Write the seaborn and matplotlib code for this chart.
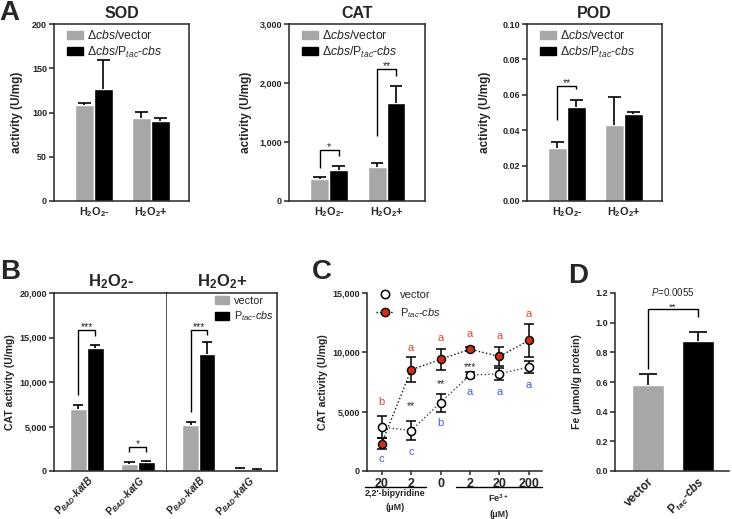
import numpy as np
import pandas as pd
import matplotlib
matplotlib.use("Agg")
import matplotlib.pyplot as plt
import matplotlib.transforms as mtrans
from matplotlib.patches import Patch
from matplotlib.lines import Line2D
import seaborn as sns

# ---------------- data ----------------
conds_A = ["H2O2-", "H2O2+"]
sod_vec = [108, 94]
sod_vec_err = [3, 7]
sod_cbs = [126, 90.5]
sod_cbs_err = [33, 3.5]
cat_vec = [370, 580]
cat_vec_err = [30, 70]
cat_cbs = [525, 1660]
cat_cbs_err = [75, 290]
pod_vec = [0.030, 0.043]
pod_vec_err = [0.0035, 0.016]
pod_cbs = [0.053, 0.049]
pod_cbs_err = [0.004, 0.0013]

strains_B = ["katB", "katG"]
bm_vec = [6980, 790]
bm_vec_err = [380, 185]
bm_cbs = [13800, 1050]
bm_cbs_err = [380, 110]
bp_vec = [5180, 190]
bp_vec_err = [380, 185]
bp_cbs = [13130, 150]
bp_cbs_err = [1420, 110]

c_conc = ["20", "2", "0", "2", "20", "200"]
c_vec = [3720, 3400, 5770, 8080, 8190, 8750]
c_vec_err = [950, 820, 760, 280, 530, 490]
c_cbs = [2310, 8530, 9400, 10270, 9650, 11000]
c_cbs_err = [450, 1070, 870, 150, 840, 1360]
c_letters_cbs = ["b", "a", "a", "a", "a", "a"]
c_letters_vec = ["c", "c", "b", "a", "a", "a"]
c_stars = ["", "**", "**", "***", "", ""]

d_groups = ["vector", "Ptac-cbs"]
d_vals = [0.58, 0.875]
d_err = [0.075, 0.06]

# annotation layout (text / bracket positions)
c_letter_cbs_y = [5800, 10400, 11200, 11550, 11350, 13230]
c_letter_vec_y = [1000, 1630, 4020, 6640, 6640, 7260]
c_star_y = [0, 5500, 7350, 8750, 0, 0]

# ---------------- style ----------------
sns.set_theme(style="white")
plt.rcParams["font.family"] = ["Liberation Sans", "DejaVu Sans"]
plt.rcParams["mathtext.fontset"] = "custom"
plt.rcParams["mathtext.rm"] = "Liberation Sans"
plt.rcParams["mathtext.it"] = "Liberation Sans:italic"
plt.rcParams["mathtext.bf"] = "Liberation Sans:bold"
plt.rcParams["mathtext.bfit"] = "Liberation Sans:italic:bold"

GREY = "#A7A7A7"
BLACK = "#000000"
RED = "#C9301A"
RED_TXT = "#E8432A"
BLUE_TXT = "#3F5CF5"
SPINE = "#262626"
STAR_FS = 7.5

W, H = 732, 519
fig = plt.figure(figsize=(W / 100, H / 100), dpi=100)


def add_ax(x0, x1, y0, y1):
    return fig.add_axes([x0 / W, 1 - y1 / H, (x1 - x0) / W, (y1 - y0) / H])


def style(ax, box=True, ylabsize=6.5):
    for s in ["left", "bottom", "top", "right"]:
        ax.spines[s].set_visible(box or s in ("left", "bottom"))
        ax.spines[s].set_linewidth(1.1)
        ax.spines[s].set_color(SPINE)
    ax.grid(False)
    ax.tick_params(axis="y", left=True, direction="out", length=3.5, width=1.1,
                   labelsize=ylabsize, pad=1.5, color=SPINE)
    ax.tick_params(axis="x", bottom=False, length=0, pad=3)


def set_yt(ax, ticks, fmt):
    ax.set_yticks(ticks, labels=[fmt(t) for t in ticks], fontweight="bold")


def up_err(ax, xs, hs, errs, cap):
    xs = np.asarray(xs)
    tops = np.asarray(hs) + np.asarray(errs)
    ax.vlines(xs, hs, tops, color="black", lw=1.2, zorder=3)
    ax.hlines(tops, xs - cap, xs + cap, color="black", lw=1.2, zorder=3)


def bar_panel(ax, cats, vec, vec_err, cbs, cbs_err, width=0.66, cap=0.1):
    df = pd.DataFrame({"cond": cats * 2,
                       "group": ["vector"] * len(cats) + ["cbs"] * len(cats),
                       "value": vec + cbs})
    sns.barplot(data=df, x="cond", y="value", hue="group", hue_order=["vector", "cbs"],
                palette=[GREY, BLACK], width=width, errorbar=None, saturation=1,
                legend=False, ax=ax)
    errs = vec_err + cbs_err
    xs = [p.get_x() + p.get_width() / 2 for p in ax.patches]
    hs = [p.get_height() for p in ax.patches]
    up_err(ax, xs, hs, errs, cap)
    ax.set_xlabel("")
    ax.set_ylabel("")
    return xs


def bracket(ax, x1, x2, y, y1, y2, txt, fs=STAR_FS):
    ax.plot([x1, x1, x2, x2], [y1, y, y, y2], color="black", lw=1.0, clip_on=False,
            solid_capstyle="butt")
    ax.text((x1 + x2) / 2, y, txt, ha="center", va="baseline", fontsize=fs)


h2o2_labels = [r"H$_\mathbf{2}$O$_\mathbf{2}$-", r"H$_\mathbf{2}$O$_\mathbf{2}$+"]
leg_A = [Patch(color=GREY, label=r"Δ$\mathit{cbs}$/vector"),
         Patch(color=BLACK, label=r"Δ$\mathit{cbs}$/P$_{\mathit{tac}}$-$\mathit{cbs}$")]

# ---------------- Panel A ----------------
specs = [
    ("SOD", (54, 189), sod_vec, sod_vec_err, sod_cbs, sod_cbs_err, (0, 200),
     [0, 50, 100, 150, 200], lambda t: f"{t:d}", -0.23),
    ("CAT", (289, 425), cat_vec, cat_vec_err, cat_cbs, cat_cbs_err, (0, 3000),
     [0, 1000, 2000, 3000], lambda t: f"{t:,}", -0.27),
    ("POD", (527, 662), pod_vec, pod_vec_err, pod_cbs, pod_cbs_err, (0, 0.10),
     [0, 0.02, 0.04, 0.06, 0.08, 0.10], lambda t: f"{t:.2f}", -0.27),
]
axA = {}
for name, (x0, x1), v, ve, c, ce, ylim, yt, fmt, labx in specs:
    ax = add_ax(x0, x1, 24, 201)
    xs = bar_panel(ax, conds_A, v, ve, c, ce, cap=0.11)
    style(ax, box=True)
    ax.set_ylim(*ylim)
    ax.set_xlim(-0.70, 1.67)
    set_yt(ax, yt, fmt)
    ax.set_xticks([0, 1], labels=h2o2_labels, fontsize=7.8, fontweight="bold")
    ax.set_ylabel("activity (U/mg)", fontsize=8.5, fontweight="bold")
    ax.yaxis.set_label_coords(labx, 0.5)
    ax.set_title(name, fontsize=11.5, fontweight="bold", pad=4)
    ax.legend(handles=leg_A, loc="upper left", bbox_to_anchor=(0.08, 0.985), frameon=False,
              fontsize=8.8, handlelength=1.25, handleheight=0.65, handletextpad=0.4,
              labelspacing=0.2, borderpad=0.2, borderaxespad=0)
    axA[name] = (ax, xs)

ax, xs = axA["CAT"]
bracket(ax, xs[0], xs[2], 868, 554, 771, "*")
bracket(ax, xs[1], xs[3], 2229, 1100, 2120, "**")
ax, xs = axA["POD"]
bracket(ax, xs[0], xs[2], 0.065, 0.046, 0.063, "**")

# ---------------- Panel B ----------------
bat_labels = [r"$\mathbf{P}_{\mathbfit{BAD}}$-$\mathbfit{katB}$",
              r"$\mathbf{P}_{\mathbfit{BAD}}$-$\mathbfit{katG}$"]
axB1 = add_ax(54, 167, 293, 471)
axB2 = add_ax(167, 277, 293, 471)
xs1 = bar_panel(axB1, strains_B, bm_vec, bm_vec_err, bm_cbs, bm_cbs_err, cap=0.1)
xs2 = bar_panel(axB2, strains_B, bp_vec, bp_vec_err, bp_cbs, bp_cbs_err, cap=0.1)
for ax, t in [(axB1, r"H$_\mathbf{2}$O$_\mathbf{2}$-"), (axB2, r"H$_\mathbf{2}$O$_\mathbf{2}$+")]:
    style(ax, box=True)
    ax.set_ylim(0, 20000)
    ax.set_xlim(-0.64, 1.57)
    ax.set_xticks([0, 1], labels=bat_labels, fontsize=7.2, fontweight="bold",
                  rotation=45, ha="right", rotation_mode="anchor")
    ax.tick_params(axis="x", pad=2)
    ax.set_title(t, fontsize=12, fontweight="bold", pad=5)
set_yt(axB1, [0, 5000, 10000, 15000, 20000], lambda t: f"{t:,}")
axB2.set_yticks([0, 5000, 10000, 15000, 20000], labels=[])
axB2.tick_params(axis="y", left=False)
axB2.spines["left"].set_visible(False)
axB1.set_ylabel("CAT activity (U/mg)", fontsize=7.6, fontweight="bold")
axB1.yaxis.set_label_coords(-0.345, 0.5)
bracket(axB1, xs1[0], xs1[2], 15870, 8550, 15120, "***")
bracket(axB1, xs1[1], xs1[3], 2740, 2180, 2180, "*")
bracket(axB2, xs2[0], xs2[2], 15870, 6680, 15310, "***")
leg_B = [Patch(color=GREY, label="vector"),
         Patch(color=BLACK, label=r"P$_{\mathit{tac}}$-$\mathit{cbs}$")]
axB2.legend(handles=leg_B, loc="upper right", bbox_to_anchor=(1.0, 1.0), frameon=False,
            fontsize=7.8, handlelength=1.3, handleheight=0.8, handletextpad=0.45,
            labelspacing=0.35, borderpad=0.25, borderaxespad=0)

# ---------------- Panel C ----------------
axC = add_ax(367, 542, 293, 471)
idx = np.arange(len(c_conc))
sns.lineplot(x=idx, y=c_vec, ax=axC, color="#444444", linestyle=":", lw=1.0, zorder=1)
sns.lineplot(x=idx, y=c_cbs, ax=axC, color="#111111", linestyle=":", lw=1.0, zorder=1)
axC.errorbar(idx, c_vec, yerr=c_vec_err, fmt="none", ecolor="black", elinewidth=1.1,
             capsize=3.5, capthick=1.1, zorder=2)
sns.scatterplot(x=idx, y=c_vec, ax=axC, marker="o", s=34, facecolor="white",
                edgecolor="black", linewidth=1.1, zorder=3)
axC.errorbar(idx, c_cbs, yerr=c_cbs_err, fmt="none", ecolor="black", elinewidth=1.1,
             capsize=3.5, capthick=1.1, zorder=4)
sns.scatterplot(x=idx, y=c_cbs, ax=axC, marker="o", s=34, color=RED,
                edgecolor="black", linewidth=1.0, zorder=5)
style(axC, box=False)
axC.set_ylim(0, 15000)
axC.set_xlim(-0.5, 5.45)
set_yt(axC, [0, 5000, 10000, 15000], lambda t: f"{t:,}")
axC.set_xticks(idx, labels=c_conc, fontsize=9, fontweight="bold")
axC.tick_params(axis="x", bottom=True, length=3, width=1.1, color=SPINE, pad=2)
axC.set_ylabel("CAT activity (U/mg)", fontsize=7.6, fontweight="bold")
axC.yaxis.set_label_coords(-0.223, 0.5)
for i in idx:
    axC.text(i, c_letter_cbs_y[i], c_letters_cbs[i], color=RED_TXT, ha="center",
             va="center", fontsize=8)
    axC.text(i, c_letter_vec_y[i], c_letters_vec[i], color=BLUE_TXT, ha="center",
             va="center", fontsize=8)
    if c_stars[i]:
        axC.text(i, c_star_y[i], c_stars[i], ha="center", va="center", fontsize=STAR_FS)
tr = mtrans.blended_transform_factory(axC.transData, axC.transAxes)
axC.plot([-0.58, 1.5], [-0.09, -0.09], color="black", lw=1.0, transform=tr, clip_on=False)
axC.plot([2.52, 5.44], [-0.09, -0.09], color="black", lw=1.0, transform=tr, clip_on=False)
axC.text(0.46, -0.125, "2,2'-bipyridine", transform=tr, ha="center", va="center",
         fontsize=6.5, fontweight="bold")
axC.text(0.46, -0.205, "(μM)", transform=tr, ha="center", va="center",
         fontsize=6.5, fontweight="bold")
axC.text(3.98, -0.15, r"Fe$^{\mathbf{3+}}$", transform=tr, ha="center", va="center",
         fontsize=6.5, fontweight="bold")
axC.text(3.98, -0.245, "(μM)", transform=tr, ha="center", va="center",
         fontsize=6.5, fontweight="bold")
leg_C = [Line2D([], [], marker="o", linestyle="none", mfc="white", mec="black", ms=6,
                mew=1.1, label="vector"),
         Line2D([], [], marker="o", linestyle=":", color="black", lw=1.0, mfc=RED,
                mec="black", ms=6, label=r"P$_{\mathit{tac}}$-$\mathit{cbs}$")]
axC.legend(handles=leg_C, loc="upper left", bbox_to_anchor=(0.04, 1.03), frameon=False,
           fontsize=8, handlelength=1.6, handletextpad=0.5, labelspacing=0.55,
           borderpad=0.2, borderaxespad=0)

# ---------------- Panel D ----------------
axD = add_ax(615, 729, 293, 471)
dfD = pd.DataFrame({"group": d_groups, "value": d_vals})
sns.barplot(data=dfD, x="group", y="value", hue="group", palette=[GREY, BLACK],
            width=0.65, errorbar=None, saturation=1, legend=False, ax=axD)
xsD = [p.get_x() + p.get_width() / 2 for p in axD.patches]
hsD = [p.get_height() for p in axD.patches]
up_err(axD, xsD, hsD, d_err, 0.18)
style(axD, box=False)
axD.set_xlabel("")
axD.set_ylim(0, 1.2)
axD.set_xlim(-0.66, 1.62)
set_yt(axD, [0, 0.2, 0.4, 0.6, 0.8, 1.0, 1.2], lambda t: f"{t:.1f}")
axD.set_xticks([0, 1], labels=["vector", r"$\mathbf{P}_{\mathbfit{tac}}$-$\mathbfit{cbs}$"],
               fontsize=8.5, fontweight="bold", rotation=45, ha="right",
               rotation_mode="anchor")
axD.set_ylabel("Fe (μmol/g protein)", fontsize=7.6, fontweight="bold")
axD.yaxis.set_label_coords(-0.29, 0.5)
bracket(axD, xsD[0], xsD[1], 1.09, 0.69, 1.04, "**", fs=6.8)
axD.text(np.mean(xsD), 1.205, r"$\mathit{P}$=0.0055", ha="center", va="center",
         fontsize=7, clip_on=False)

# ---------------- panel letters ----------------
for letter, x, y in [("A", 9, 13), ("B", 10, 272), ("C", 322, 272), ("D", 578, 276)]:
    fig.text(x / W, 1 - y / H, letter, fontsize=20, fontweight="bold", ha="center",
             va="center")

fig.savefig("out.png", dpi=100)
